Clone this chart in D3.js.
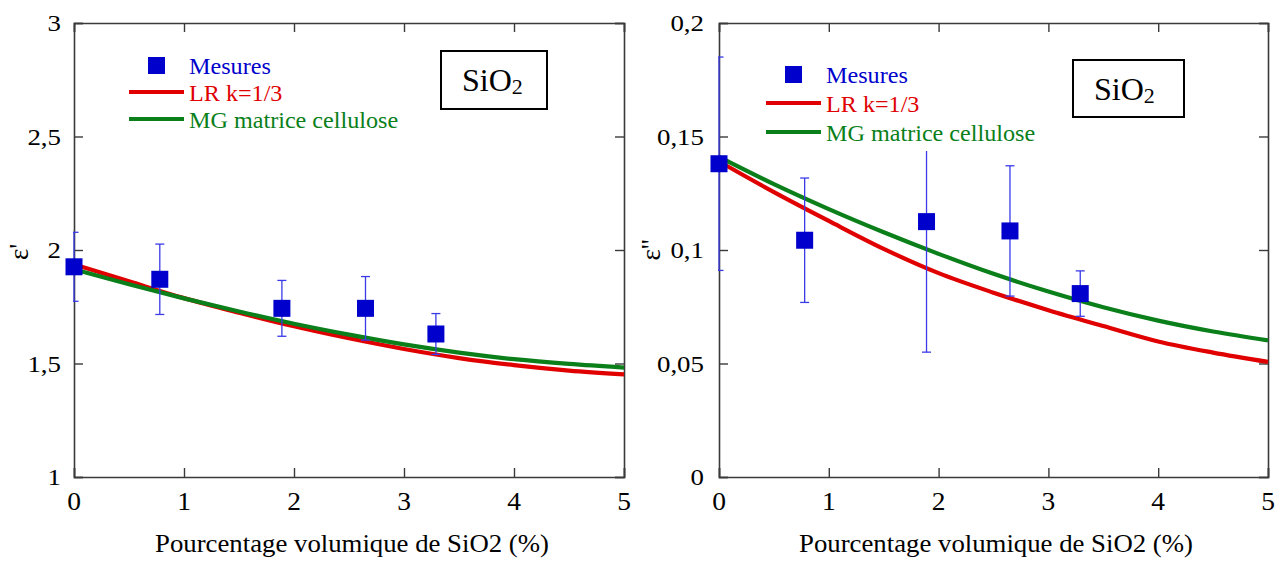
<!DOCTYPE html>
<html>
<head>
<meta charset="utf-8">
<script src="https://cdn.jsdelivr.net/npm/d3@7/dist/d3.min.js"></script>
<style>
  html, body { margin: 0; padding: 0; background: #fff; }
  svg { display: block; }
</style>
</head>
<body>
<svg id="chart" width="1283" height="563" font-family="'Liberation Serif', 'Times New Roman', Times, serif"></svg>
<script>
// ---------- data ----------
const xTickValues = [0, 1, 2, 3, 4, 5];
const xTickLabels = ["0", "1", "2", "3", "4", "5"];

const leftYTickValues = [1, 1.5, 2, 2.5, 3];
const leftYTickLabels = ["1", "1,5", "2", "2,5", "3"];
const rightYTickValues = [0, 0.05, 0.1, 0.15, 0.2];
const rightYTickLabels = ["0", "0,05", "0,1", "0,15", "0,2"];

// measurements
const measX = [0, 0.78, 1.89, 2.65, 3.29];
const epsPrime = [1.926, 1.871, 1.743, 1.743, 1.630];
const epsPrimeErr = [0.152, 0.155, 0.123, 0.14, 0.09];
const epsSecond = [0.138, 0.1043, 0.1125, 0.1084, 0.0808];
const epsSecondErr = [0.047, 0.0274, 0.0575, 0.0287, 0.010];

// model curves
const curveX = [0, 0.5, 1, 1.5, 2, 2.5, 3, 3.5, 4, 4.5, 5];
const lrPrime = [1.937, 1.862, 1.788, 1.724, 1.664, 1.611, 1.564, 1.524, 1.493, 1.469, 1.452];
const mgPrime = [1.915, 1.849, 1.787, 1.729, 1.675, 1.627, 1.584, 1.548, 1.519, 1.498, 1.482];
const lrSecond = [0.139, 0.1255, 0.1128, 0.1005, 0.0898, 0.0812, 0.0735, 0.0665, 0.0597, 0.0548, 0.0507];
const mgSecond = [0.141, 0.1290, 0.1180, 0.1078, 0.0983, 0.0895, 0.0817, 0.0748, 0.0689, 0.0641, 0.0602];

const legendLabels = ["Mesures", "LR k=1/3", "MG matrice cellulose"];
const xTitle = "Pourcentage volumique de SiO2 (%)";

// ---------- styles ----------
const FONT = "'Liberation Serif', 'Times New Roman', Times, serif";
const RED = "#e00000", GREEN = "#0a7f1a", BLUE = "#0000cc", ERR = "#3a3ae8", AXIS = "#3a3a3a";

const svg = d3.select("#chart");

function stretchedText(g, x, y, str, opts) {
  return g.append("text")
    .attr("transform", `translate(${x},${y}) scale(${opts.sx || 1},1)`)
    .attr("text-anchor", opts.anchor || "start")
    .attr("font-family", FONT)
    .attr("font-size", opts.size)
    .attr("fill", opts.fill || "#000")
    .text(str);
}

function panel(cfg) {
  const g = svg.append("g");
  const x = d3.scaleLinear().domain([0, 5]).range([cfg.left, cfg.right]);
  const y = d3.scaleLinear().domain(cfg.yDomain).range([cfg.bottom, cfg.top]);
  const id = "clip" + cfg.name;

  g.append("clipPath").attr("id", id).append("rect")
    .attr("x", cfg.left - 1).attr("y", cfg.top - 1)
    .attr("width", cfg.right - cfg.left + 2).attr("height", cfg.bottom - cfg.top + 2);

  // axes (ticks inward on all four sides)
  const tickLen = 9;
  const axB = d3.axisBottom(x).tickValues(xTickValues).tickSize(-tickLen).tickFormat("");
  const axT = d3.axisTop(x).tickValues(xTickValues).tickSize(-tickLen).tickFormat("");
  const axL = d3.axisLeft(y).tickValues(cfg.yTicks).tickSize(-tickLen).tickFormat("");
  const axR = d3.axisRight(y).tickValues(cfg.yTicks).tickSize(-tickLen).tickFormat("");
  const axes = [
    g.append("g").attr("transform", `translate(0,${cfg.bottom})`).call(axB),
    g.append("g").attr("transform", `translate(0,${cfg.top})`).call(axT),
    g.append("g").attr("transform", `translate(${cfg.left},0)`).call(axL),
    g.append("g").attr("transform", `translate(${cfg.right},0)`).call(axR)
  ];
  axes.forEach(a => {
    a.select(".domain").attr("stroke", AXIS).attr("stroke-width", 1.6);
    a.selectAll(".tick line").attr("stroke", AXIS).attr("stroke-width", 1.4);
  });

  // tick labels
  xTickValues.forEach((v, i) => {
    stretchedText(g, x(v), cfg.bottom + 33, xTickLabels[i], {size: 25, sx: 1.1, anchor: "middle"});
  });
  cfg.yTicks.forEach((v, i) => {
    stretchedText(g, cfg.left - cfg.yLabelGap, y(v) + 8, cfg.yLabels[i], {size: 24, sx: 1.12, anchor: "end"});
  });

  // axis titles
  stretchedText(g, cfg.xTitleX, 552, xTitle, {size: 26, sx: 1.03, anchor: "middle"});
  g.append("text")
    .attr("transform", `translate(${cfg.yTitleX},${cfg.yTitleY}) rotate(-90)`)
    .attr("text-anchor", "middle")
    .attr("font-family", FONT)
    .attr("font-size", 27)
    .text(cfg.yTitle);

  // curves
  const line = (vals) => d3.line()
    .x((d, i) => x(curveX[i]))
    .y(d => y(d))
    .curve(d3.curveMonotoneX)(vals);
  const plot = g.append("g").attr("clip-path", `url(#${id})`);
  plot.append("path").attr("d", line(cfg.lr)).attr("fill", "none")
    .attr("stroke", RED).attr("stroke-width", 4.2);
  plot.append("path").attr("d", line(cfg.mg)).attr("fill", "none")
    .attr("stroke", GREEN).attr("stroke-width", 4.2);

  // error bars
  const eb = plot.append("g").attr("stroke", ERR).attr("stroke-width", 1.3);
  measX.forEach((mx, i) => {
    const cx = x(mx), top = y(cfg.meas[i] + cfg.err[i]), bot = y(cfg.meas[i] - cfg.err[i]);
    eb.append("line").attr("x1", cx).attr("x2", cx).attr("y1", top).attr("y2", bot);
    eb.append("line").attr("x1", cx - 4.5).attr("x2", cx + 4.5).attr("y1", top).attr("y2", top);
    eb.append("line").attr("x1", cx - 4.5).attr("x2", cx + 4.5).attr("y1", bot).attr("y2", bot);
  });

  // legend (white background hides what is behind)
  const lg = g.append("g");
  const sp = cfg.lgSpacing;
  lg.append("rect").attr("x", cfg.lgX - 45).attr("y", cfg.lgY - 28)
    .attr("width", 260).attr("height", 2 * sp + 38).attr("fill", "#fff");

  // markers
  const ms = 17;
  g.append("g").selectAll("rect.m").data(measX).join("rect")
    .attr("x", (d) => x(d) - ms / 2)
    .attr("y", (d, i) => y(cfg.meas[i]) - ms / 2)
    .attr("width", ms).attr("height", ms).attr("fill", BLUE);

  // legend items
  lg.append("rect").attr("x", cfg.lgX - 41).attr("y", cfg.lgY - 17)
    .attr("width", ms).attr("height", ms).attr("fill", BLUE);
  lg.append("line").attr("x1", cfg.lgX - 60).attr("x2", cfg.lgX - 5)
    .attr("y1", cfg.lgY + sp - 9).attr("y2", cfg.lgY + sp - 9).attr("stroke", RED).attr("stroke-width", 4.2);
  lg.append("line").attr("x1", cfg.lgX - 60).attr("x2", cfg.lgX - 5)
    .attr("y1", cfg.lgY + 2 * sp - 9).attr("y2", cfg.lgY + 2 * sp - 9).attr("stroke", GREEN).attr("stroke-width", 4.2);
  stretchedText(lg, cfg.lgX, cfg.lgY, legendLabels[0], {size: 23, sx: 1.05, fill: BLUE});
  stretchedText(lg, cfg.lgX, cfg.lgY + sp, legendLabels[1], {size: 23, sx: 1.05, fill: RED});
  stretchedText(lg, cfg.lgX, cfg.lgY + 2 * sp, legendLabels[2], {size: 23, sx: 1.05, fill: GREEN});

  // SiO2 label box
  g.append("rect").attr("x", cfg.boxX).attr("y", cfg.boxY).attr("width", cfg.boxW).attr("height", cfg.boxH)
    .attr("fill", "#fff").attr("stroke", "#000").attr("stroke-width", 2);
  const st = g.append("text").attr("x", cfg.boxX + 21).attr("y", cfg.boxY + cfg.boxH / 2 + 11)
    .attr("font-family", FONT).attr("font-size", 32).attr("fill", "#000");
  st.append("tspan").text("SiO");
  st.append("tspan").attr("font-size", 22).attr("dy", 3).text("2");
}

panel({
  name: "L", left: 74, right: 624, top: 23, bottom: 477,
  yDomain: [1, 3], yTicks: leftYTickValues, yLabels: leftYTickLabels, yLabelGap: 13,
  meas: epsPrime, err: epsPrimeErr, lr: lrPrime, mg: mgPrime,
  xTitleX: 352, yTitleX: 28, yTitleY: 252, yTitle: "ε'",
  lgX: 189, lgY: 74, lgSpacing: 27, boxX: 441, boxY: 51, boxW: 106, boxH: 58
});

panel({
  name: "R", left: 719, right: 1268, top: 23, bottom: 477,
  yDomain: [0, 0.2], yTicks: rightYTickValues, yLabels: rightYTickLabels, yLabelGap: 15,
  meas: epsSecond, err: epsSecondErr, lr: lrSecond, mg: mgSecond,
  xTitleX: 996, yTitleX: 660, yTitleY: 250, yTitle: "ε''",
  lgX: 826, lgY: 83, lgSpacing: 29, boxX: 1073, boxY: 60, boxW: 111, boxH: 57
});
</script>
</body>
</html>
